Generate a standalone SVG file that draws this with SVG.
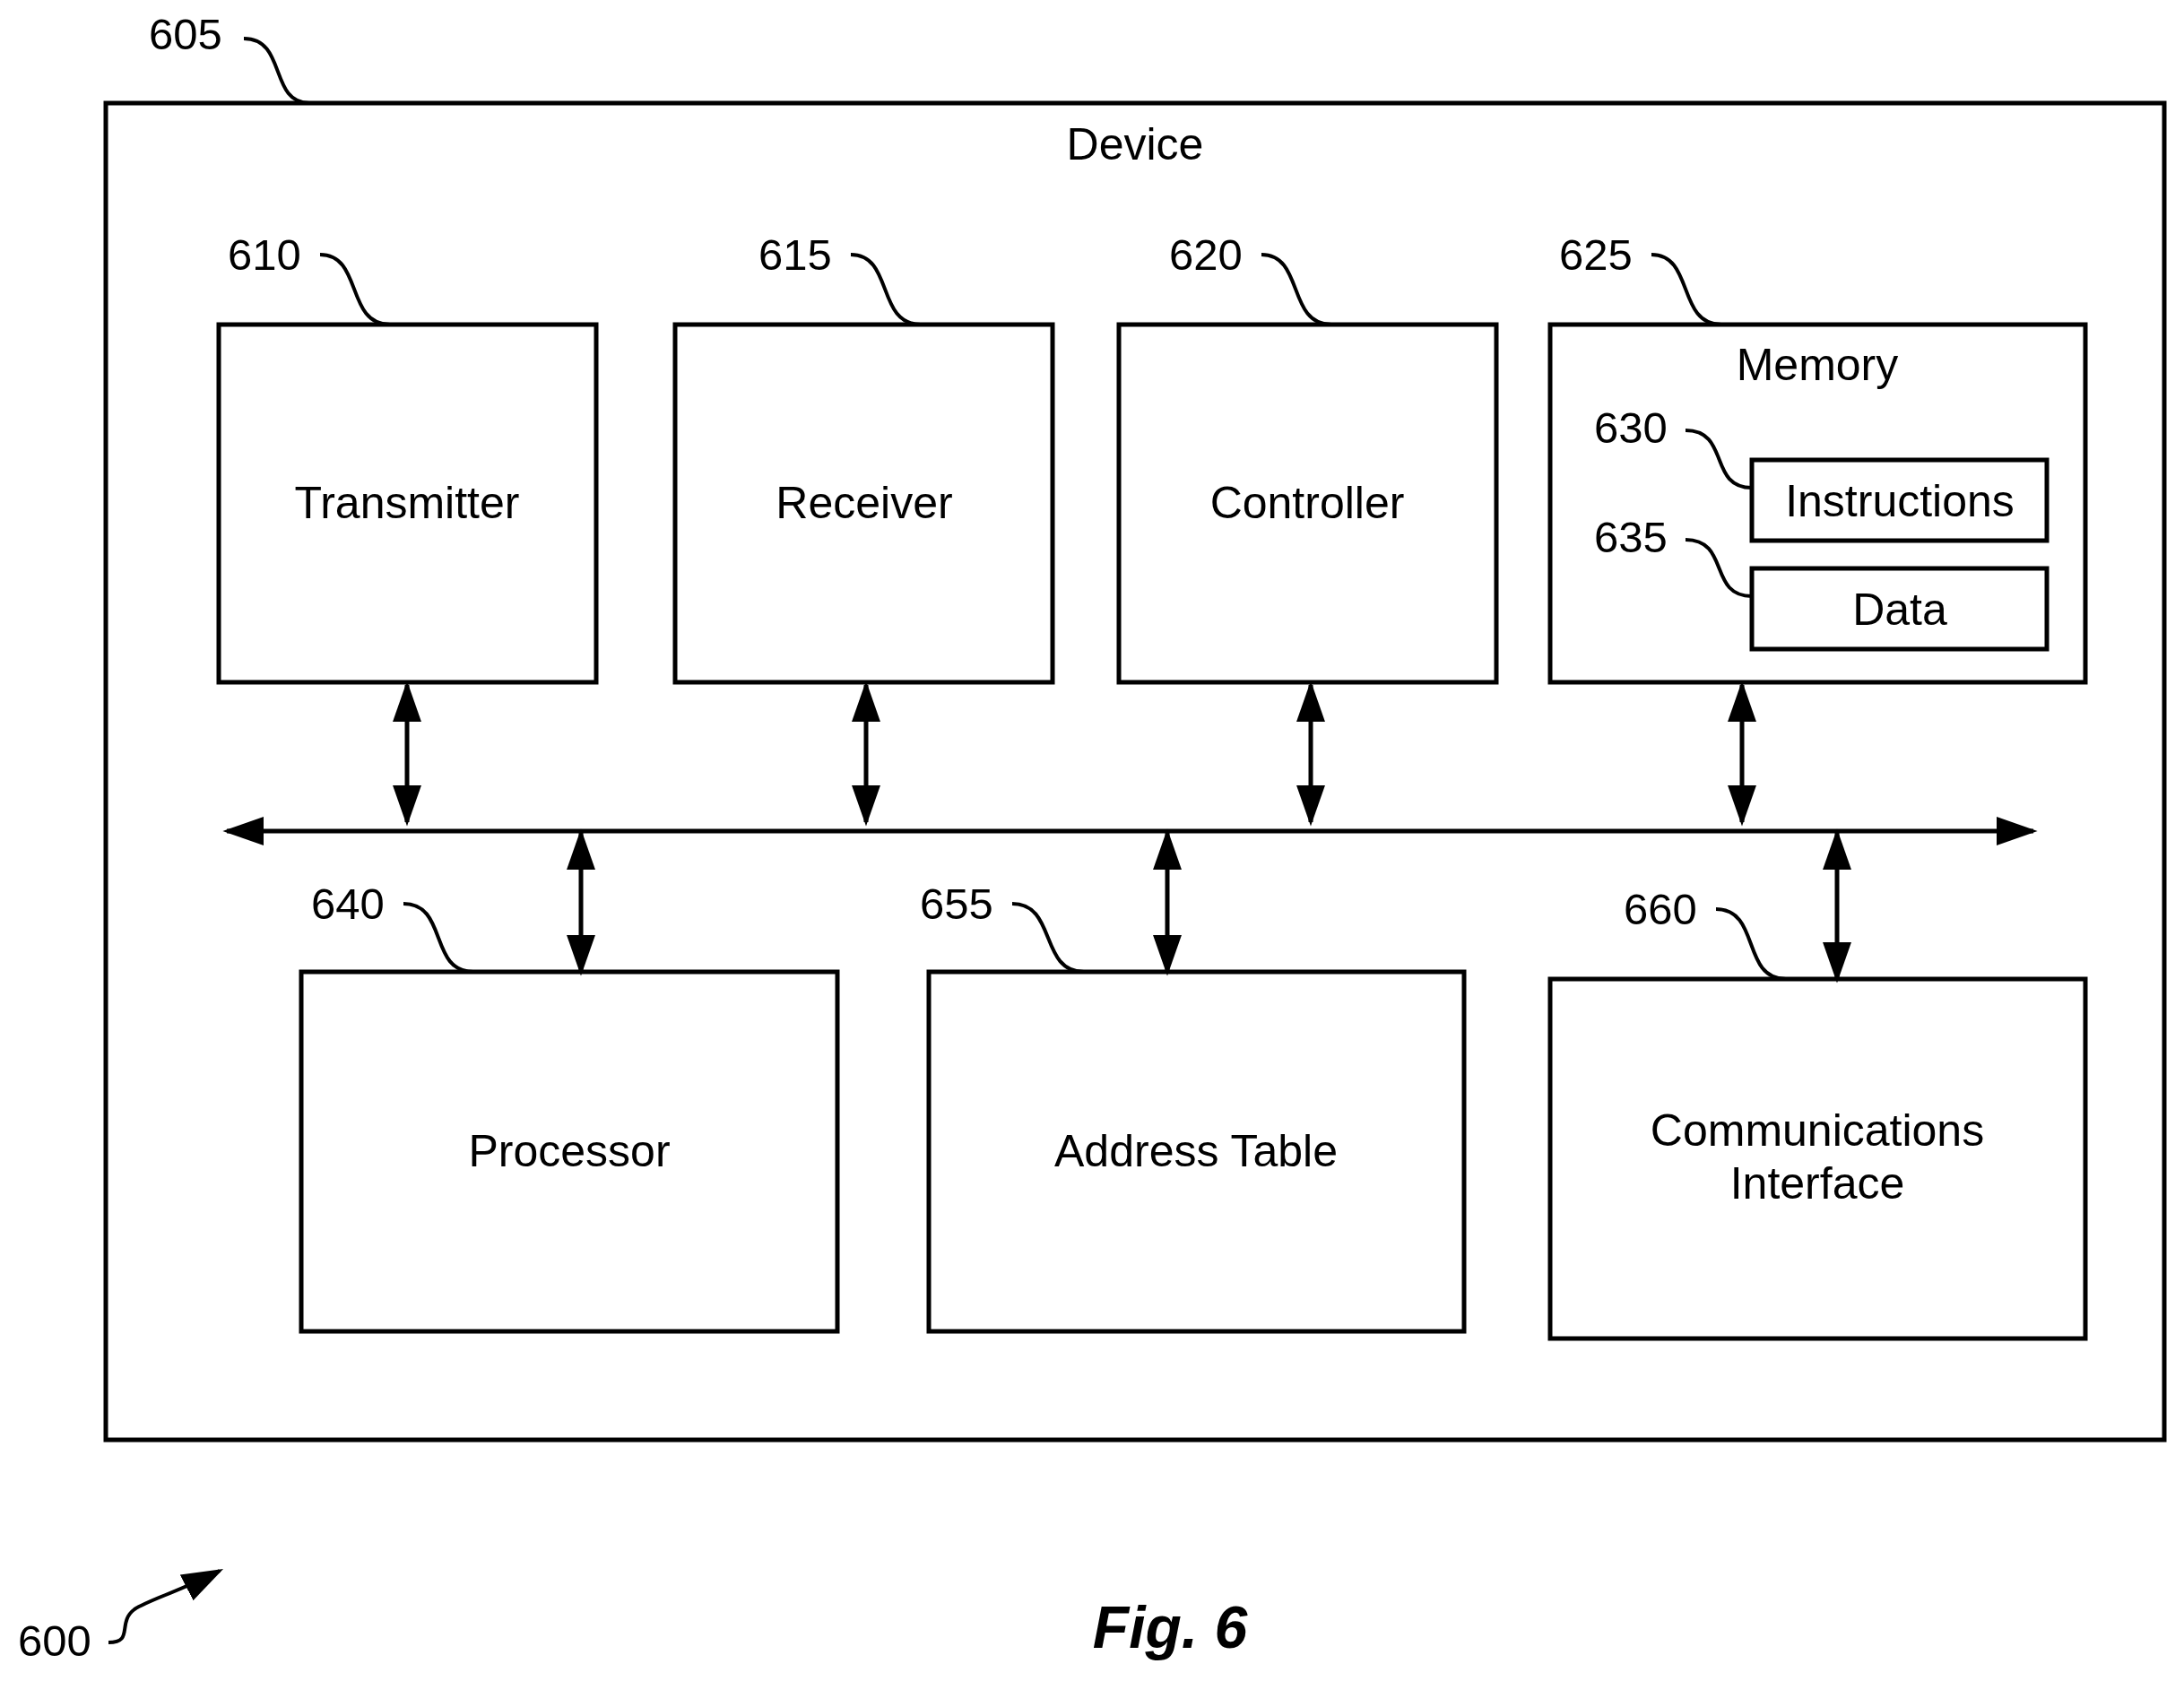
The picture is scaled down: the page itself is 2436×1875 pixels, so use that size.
<svg xmlns="http://www.w3.org/2000/svg" width="2436" height="1875" viewBox="0 0 2436 1875">
<style>
.b{fill:none;stroke:#000;stroke-width:5}
.l{fill:none;stroke:#000;stroke-width:4}
text{font-family:"Liberation Sans",Arial,sans-serif;fill:#000}
.t{font-size:50px;text-anchor:middle}
.n{font-size:49px;text-anchor:middle}
</style>
<defs>
<marker id="A" viewBox="0 0 10 10" refX="9" refY="5" markerWidth="46" markerHeight="46" orient="auto-start-reverse" markerUnits="userSpaceOnUse"><path d="M0,1.5L10,5L0,8.5z"/></marker></defs>
<rect x="0" y="0" width="2436" height="1875" fill="#fff"/>
<g id="device"><rect class="b" x="118" y="115" width="2296" height="1491"/><text class="t" x="1266" y="178">Device</text>
<text class="n" x="207" y="55">605</text><path class="l" d="M272,43 C320,43 300,115 345,115"/></g>
<g id="transmitter"><rect class="b" x="244" y="362" width="421" height="399"/><text class="t" x="454" y="578">Transmitter</text>
<text class="n" x="295" y="301">610</text><path class="l" d="M357,284 C405,284 385,362 435,362"/></g>
<g id="receiver"><rect class="b" x="753" y="362" width="421" height="399"/><text class="t" x="964" y="578">Receiver</text>
<text class="n" x="887" y="301">615</text><path class="l" d="M949,284 C997,284 977,362 1027,362"/></g>
<g id="controller"><rect class="b" x="1248" y="362" width="421" height="399"/><text class="t" x="1458" y="578">Controller</text>
<text class="n" x="1345" y="301">620</text><path class="l" d="M1407,284 C1455,284 1435,362 1485,362"/></g>
<g id="memory"><rect class="b" x="1729" y="362" width="597" height="399"/><text class="t" x="2027" y="424">Memory</text>
<text class="n" x="1780" y="301">625</text><path class="l" d="M1842,284 C1890,284 1870,362 1920,362"/></g>
<g id="instructions"><rect class="b" x="1954" y="513" width="329" height="90"/><text class="t" x="2119" y="576">Instructions</text>
<text class="n" x="1819" y="494">630</text><path class="l" d="M1880,480 C1930,480 1905,544 1954,544"/></g>
<g id="data"><rect class="b" x="1954" y="634" width="329" height="90"/><text class="t" x="2119" y="697">Data</text>
<text class="n" x="1819" y="616">635</text><path class="l" d="M1880,602 C1930,602 1905,665 1954,665"/></g>
<g id="processor"><rect class="b" x="336" y="1084" width="598" height="401"/><text class="t" x="635" y="1301">Processor</text>
<text class="n" x="388" y="1025">640</text><path class="l" d="M450,1008 C500,1008 478,1084 528,1084"/></g>
<g id="address"><rect class="b" x="1036" y="1084" width="597" height="401"/><text class="t" x="1334" y="1301">Address Table</text>
<text class="n" x="1067" y="1025">655</text><path class="l" d="M1129,1008 C1179,1008 1159,1084 1209,1084"/></g>
<g id="comm"><rect class="b" x="1729" y="1092" width="597" height="401"/><text class="t" x="2027" y="1278">Communications</text><text class="t" x="2027" y="1337">Interface</text>
<text class="n" x="1852" y="1031">660</text><path class="l" d="M1914,1014 C1964,1014 1942,1092 1992,1092"/></g>
<g id="connectors" fill="none" stroke="#000" stroke-width="5" marker-start="url(#A)" marker-end="url(#A)">
<line x1="253" y1="927" x2="2268" y2="927"/>
<line x1="454" y1="764" x2="454" y2="917"/>
<line x1="966" y1="764" x2="966" y2="917"/>
<line x1="1462" y1="764" x2="1462" y2="917"/>
<line x1="1943" y1="764" x2="1943" y2="917"/>
<line x1="648" y1="929" x2="648" y2="1084"/>
<line x1="1302" y1="929" x2="1302" y2="1084"/>
<line x1="2049" y1="929" x2="2049" y2="1092"/>
</g>
<g id="fig"><text x="61" y="1847" class="n">600</text>
<path d="M121,1832 C150,1832 130,1810 150,1795 C165,1785 200,1775 245,1752" fill="none" stroke="#000" stroke-width="4" marker-end="url(#A)"/>
<text x="1305" y="1838" style="font-size:66px;font-weight:bold;font-style:italic;text-anchor:middle">Fig. 6</text></g>
</svg>
